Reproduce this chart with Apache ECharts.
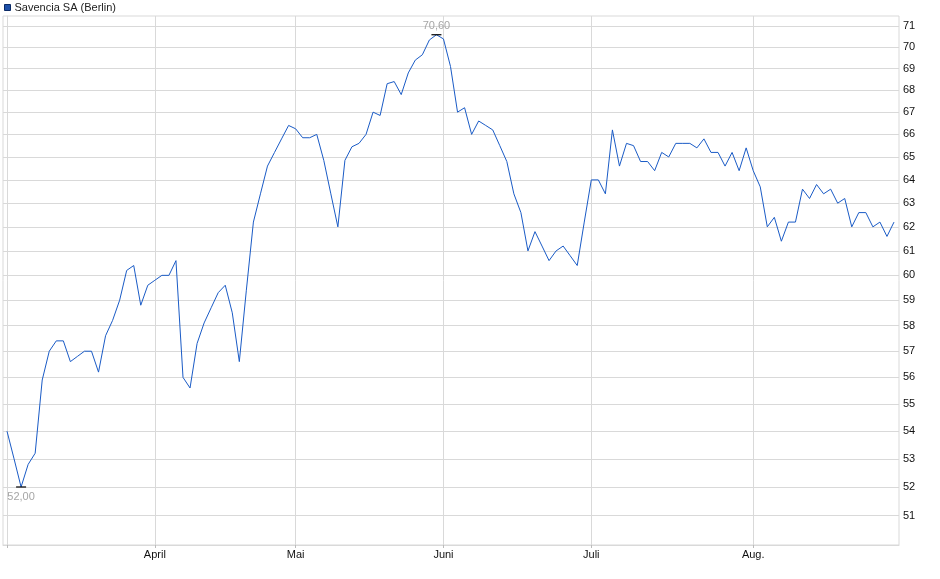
<!DOCTYPE html>
<html>
<head>
<meta charset="utf-8">
<script src="https://cdn.jsdelivr.net/npm/echarts@6/dist/echarts.min.js"></script>
<style>
html,body{margin:0;padding:0;background:#fff;}
#chart{width:940px;height:579px;}
</style>
</head>
<body>
<div id="chart"></div>
<script>
var seriesName = 'Savencia SA (Berlin)';
var prices = [
  54.0, 53.0, 52.0, 52.8, 53.2, 55.9, 57.0, 57.4, 57.4, 56.6,
  56.8, 57.0, 57.0, 56.2, 57.6, 58.2, 59.0, 60.2, 60.4, 58.8,
  59.6, 59.8, 60.0, 60.0, 60.6, 56.0, 55.6, 57.3, 58.1, 58.7,
  59.3, 59.6, 58.5, 56.6, 59.4, 62.2, 63.4, 64.6, 65.2, 65.8,
  66.4, 66.25, 65.85, 65.85, 66.0, 64.85, 63.4, 62.0, 64.85, 65.45,
  65.6, 66.0, 67.0, 66.85, 68.3, 68.4, 67.8, 68.8, 69.4, 69.65,
  70.35, 70.6, 70.4, 69.1, 67.0, 67.2, 66.0, 66.6, 66.4, 66.2,
  65.5, 64.8, 63.4, 62.6, 61.0, 61.8, 61.2, 60.6, 61.0, 61.2,
  60.8, 60.4, 62.2, 64.0, 64.0, 63.4, 66.2, 64.6, 65.6, 65.5,
  64.8, 64.8, 64.4, 65.2, 65.0, 65.6, 65.6, 65.6, 65.4, 65.8,
  65.2, 65.2, 64.6, 65.2, 64.4, 65.4, 64.4, 63.7, 62.0, 62.4,
  61.4, 62.2, 62.2, 63.6, 63.2, 63.8, 63.4, 63.6, 63.0, 63.2,
  62.0, 62.6, 62.6, 62.0, 62.2, 61.6, 62.2
];
var monthTicks = [0, 21, 41, 62, 83, 106];
var monthLabels = ['', 'April', 'Mai', 'Juni', 'Juli', 'Aug.'];
var yTicks = [51, 52, 53, 54, 55, 56, 57, 58, 59, 60, 61, 62, 63, 64, 65, 66, 67, 68, 69, 70, 71];

var gridColor = '#d9d9d9';
var fontFam = '"Liberation Sans", Arial, sans-serif';

var chart = echarts.init(document.getElementById('chart'), null, {renderer: 'canvas'});
chart.setOption({
  animation: false,
  backgroundColor: '#ffffff',
  textStyle: {fontFamily: fontFam},
  legend: {
    left: 4, top: 2, padding: 0,
    itemWidth: 6, itemHeight: 6,
    textStyle: {fontSize: 11, color: '#222', fontFamily: fontFam, padding: [0, 0, 0, -1]},
    data: [{name: seriesName, icon: 'rect', itemStyle: {color: '#1d50a8', borderColor: '#0b2a66', borderWidth: 1}}]
  },
  grid: {
    left: 3, right: 41, top: 16, bottom: 34,
    show: true, borderColor: gridColor, borderWidth: 1, containLabel: false
  },
  xAxis: {
    type: 'value',
    min: -0.57, max: 126.71,
    axisLine: {show: true, lineStyle: {color: gridColor}},
    axisTick: {show: true, customValues: monthTicks, length: 3, lineStyle: {color: '#bbb'}},
    axisLabel: {
      customValues: monthTicks, margin: 4, fontSize: 11, color: '#111', fontFamily: fontFam,
      formatter: function (v) { var k = monthTicks.indexOf(Math.round(v)); return k >= 0 ? monthLabels[k] : ''; }
    },
    splitLine: {show: true, lineStyle: {color: gridColor, width: 1}}
  },
  yAxis: {
    type: 'log', logBase: 10, position: 'right',
    min: 50, max: 71.5,
    axisLine: {show: true, lineStyle: {color: gridColor}},
    axisTick: {show: false, customValues: yTicks},
    axisLabel: {customValues: yTicks, margin: 4, fontSize: 11, color: '#111', fontFamily: fontFam,
      formatter: function (v) { return String(Math.round(v)); }},
    splitLine: {show: true, lineStyle: {color: gridColor, width: 1}}
  },
  series: [{
    name: seriesName,
    type: 'line',
    symbol: 'none',
    data: prices.map(function (v, i) { return [i, v]; }),
    lineStyle: {color: '#1a5bc6', width: 1},
    itemStyle: {color: '#1a5bc6'},
    markPoint: {
      symbol: 'rect',
      symbolSize: [10, 1.2],
      itemStyle: {color: '#000'},
      label: {
        show: true, color: '#a6a6a6', fontSize: 11, fontFamily: fontFam,
        formatter: function (p) { return Number(p.value).toFixed(2).replace('.', ','); }
      },
      data: [
        {type: 'min', valueDim: 'y', label: {position: 'bottom', distance: 4}},
        {type: 'max', valueDim: 'y', label: {position: 'top', distance: 3}}
      ]
    }
  }]
});
</script>
</body>
</html>
